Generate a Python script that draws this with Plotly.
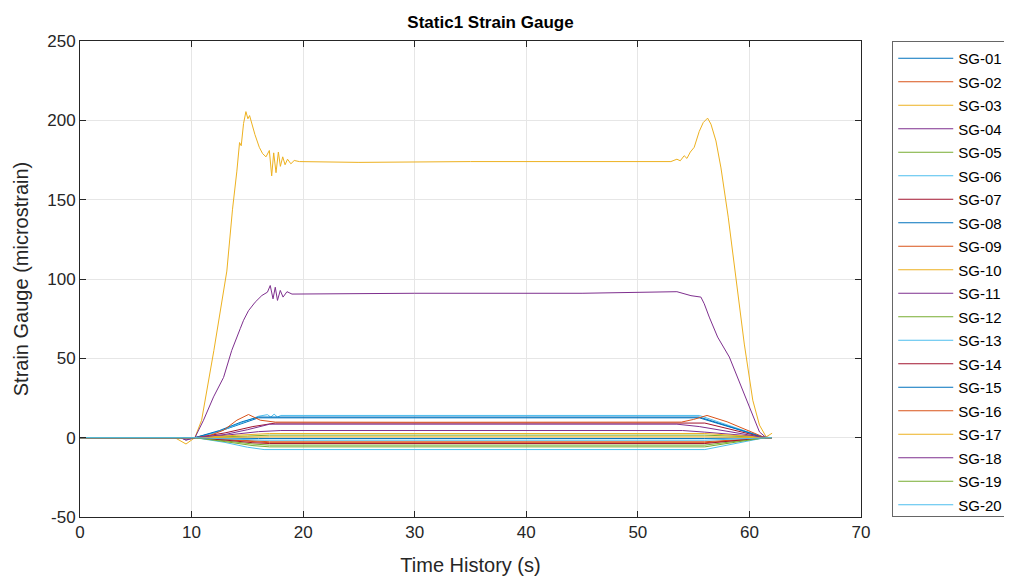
import plotly.graph_objects as go

# ---------------- data ----------------
names = [f"SG-{i:02d}" for i in range(1, 21)]

t01 = [0, 10.3, 12.5, 14.5, 16, 55.5, 61.4, 62]
v01 = [0, 0, 4, 9, 12.5, 12.5, 0, 0]

t02 = [0, 10.3, 13, 15.5, 17, 56, 61.4, 62]
v02 = [0, 0, -1.2, -2.6, -3.2, -3.2, 0, 0]

t03 = [0, 8.5, 9.5, 10.3, 10.9, 12.0, 13.16, 13.67, 14.06, 14.3, 14.45, 14.66, 14.87,
       15.05, 15.2, 15.38, 15.68, 16.07, 16.37, 16.67, 16.97, 17.18, 17.36, 17.57,
       17.78, 17.96, 18.17, 18.38, 18.6, 18.9, 19.2, 19.66, 25, 35, 45, 52.96,
       53.5, 53.8, 54.15, 54.4, 54.7, 55.05, 55.5, 55.86, 56.25, 56.55, 57, 57.45,
       58.1, 58.8, 59.54, 60.3, 60.9, 61.5, 62.03]
v03 = [0, 0, -4, 0, 11, 55, 105, 144, 168, 186, 184, 198, 205.5,
       201, 203, 198, 191, 183, 179, 177, 181, 165, 179.5, 167,
       180, 171, 177, 172, 175.5, 172.6, 174.7, 174, 173.5, 174, 174, 174,
       175.5, 174.5, 177.7, 176, 180, 183, 193, 198.6, 201.4, 197.6, 187, 170,
       139, 101, 59, 23.6, 7.9, 0.5, 2.8]

t04 = [0, 9, 9.5, 10.3, 13, 16, 18, 54, 56, 61.4, 62]
v04 = [0, 0, -1.5, 0, 1.5, 3.8, 4.5, 4.5, 3.5, 0, 0]

t05 = [0, 10.3, 15, 17, 56, 61.4, 62]
v05 = [0, 0, 1, 1.6, 1.6, 0, 0]

t06 = [0, 10.3, 12.5, 14.5, 16, 16.8, 17.1, 17.4, 17.7, 18, 55.5, 61.4, 62]
v06 = [0, 0, 4, 9.5, 13.5, 14.5, 13, 14.8, 13, 14, 14, 0, 0]

t07 = [0, 10.3, 13, 15.5, 17.5, 56, 61.4, 62]
v07 = [0, 0, 3, 7, 9.2, 9.2, 0, 0]

t08 = [0, 10.3, 16, 56, 61.4, 62]
v08 = [0, 0, -0.5, -0.5, 0, 0]

t09 = [0, 10.3, 13, 15.5, 17, 56, 61.4, 62]
v09 = [0, 0, -1, -2.2, -2.6, -2.6, 0, 0]

t10 = [0, 10.3, 14, 17, 56, 61.4, 62]
v10 = [0, 0, 1.5, 2.6, 2.6, 0, 0]

t11 = [0, 9, 9.5, 10.3, 11.07, 11.97, 12.87, 13.6, 14.36, 14.66, 15.1, 15.7, 16.3,
       16.8, 17.05, 17.3, 17.5, 17.7, 17.95, 18.2, 18.55, 19, 30, 45, 53.5, 54.2,
       54.76, 55.65, 55.95, 56.4, 57.15, 58.2, 59.25, 60.14, 60.9, 61.5, 62]
v11 = [0, 0, -1.5, 0, 11, 25.7, 38, 55, 68.7, 74, 80, 85.4, 89.6,
       91.7, 95.9, 87.5, 94.8, 86.5, 92.8, 88.6, 92, 90.5, 91, 91, 92, 90.5,
       89.5, 88.6, 84.4, 76, 63.4, 50.8, 32, 17.3, 3.6, 0, 0]

t12 = [0, 10.3, 13, 15.5, 17, 56, 61.4, 62]
v12 = [0, 0, -2, -4, -4.7, -4.7, 0, 0]

t13 = [0, 10.3, 13, 15, 16.5, 56, 61.4, 62]
v13 = [0, 0, -3, -6, -7.5, -7.5, 0, 0]

t14 = [0, 10.3, 13, 15.5, 17, 56, 61.4, 62]
v14 = [0, 0, -1.5, -3.2, -3.7, -3.7, 0, 0]

t15 = [0, 10.3, 12.5, 14.5, 16, 55.5, 61.4, 62]
v15 = [0, 0, 4.5, 10, 13.0, 13.0, 0, 0]

t16 = [0, 10.3, 11.5, 12.87, 14.06, 15.1, 16.16, 17.5, 30, 53.9, 55, 56.2, 58, 61.4, 62]
v16 = [0, 0, 1, 4.7, 11, 14.6, 11, 9.8, 9.7, 9.8, 11.5, 14, 10, 0, 0]

t17 = [0, 10.3, 17, 56, 61.4, 62]
v17 = [0, 0, 0.5, 0.5, 0, 0]

t18 = [0, 10.3, 13, 15, 17, 53.5, 55.5, 61.4, 62]
v18 = [0, 0, 2, 5, 8.5, 8.5, 7, 0, 0]

t19 = [0, 10.3, 13, 15.5, 17, 56, 61.4, 62]
v19 = [0, 0, -2.5, -5, -5.8, -5.8, 0, 0]

t20 = [0, 10.3, 14, 16.5, 56, 61.4, 62]
v20 = [0, 0, -1, -1.6, -1.6, 0, 0]

times = [t01, t02, t03, t04, t05, t06, t07, t08, t09, t10,
         t11, t12, t13, t14, t15, t16, t17, t18, t19, t20]
values = [v01, v02, v03, v04, v05, v06, v07, v08, v09, v10,
          v11, v12, v13, v14, v15, v16, v17, v18, v19, v20]

x_ticks = [0, 10, 20, 30, 40, 50, 60, 70]
y_ticks = [-50, 0, 50, 100, 150, 200, 250]

# MATLAB default colour order
palette = ["#0072BD", "#D95319", "#EDB120", "#7E2F8E", "#77AC30", "#4DBEEE", "#A2142F"]

# ---------------- figure ----------------
fig = go.Figure()
for i, (name, t, v) in enumerate(zip(names, times, values)):
    fig.add_trace(go.Scatter(
        x=t, y=v, mode="lines", name=name, legendgroup=name,
        line=dict(color=palette[i % 7], width=1),
    ))

font_family = "Liberation Sans, Arial, sans-serif"
axis_common = dict(
    showgrid=True, gridcolor="#e6e6e6", gridwidth=1,
    showline=True, linecolor="#262626", linewidth=1, mirror="allticks",
    ticks="inside", ticklen=6, tickcolor="#262626",
    zeroline=False, automargin=False,
    tickfont=dict(family=font_family, size=17, color="#262626"),
)

fig.update_layout(
    width=1012, height=581,
    margin=dict(l=72, r=152, t=33, b=72),
    paper_bgcolor="white", plot_bgcolor="white",
    title=dict(text="<b>Static1 Strain Gauge</b>", x=0.5256, xanchor="center",
               xref="paper", y=0.976, yanchor="middle", yref="container",
               font=dict(family=font_family, size=17, color="black")),
    xaxis=dict(range=[0, 70], tickvals=x_ticks, ticktext=[str(v) for v in x_ticks],
               title=dict(text="Time History (s)", standoff=16,
                          font=dict(family=font_family, size=20, color="#262626")),
               **axis_common),
    yaxis=dict(range=[-50, 250], tickvals=y_ticks, ticktext=[str(v) for v in y_ticks],
               title=dict(text="Strain Gauge (microstrain)", standoff=13,
                          font=dict(family=font_family, size=20, color="#262626")),
               **axis_common),
    legend=dict(x=1.04, y=1.0, xanchor="left", yanchor="top",
                bgcolor="white", bordercolor="#666666", borderwidth=1,
                itemwidth=55, tracegroupgap=1,
                font=dict(family=font_family, size=15, color="black")),
    showlegend=True,
)

fig.write_html("out.html")
